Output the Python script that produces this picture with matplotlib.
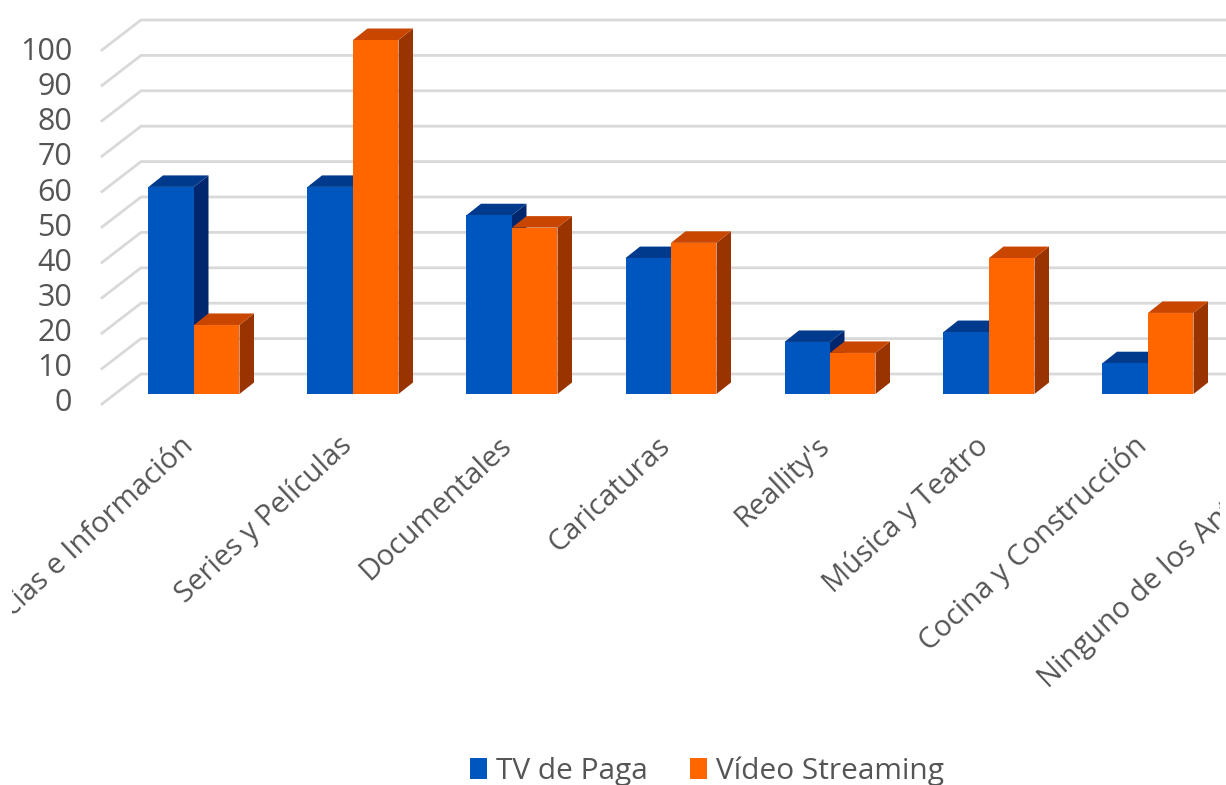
import matplotlib
matplotlib.use("Agg")
import matplotlib.pyplot as plt
from matplotlib.patches import Polygon
from matplotlib.transforms import Bbox, TransformedBbox

categories = ["Noticias e Información", "Series y Películas", "Documentales", "Caricaturas",
              "Reallity's", "Música y Teatro", "Cocina y Construcción", "Ninguno de los Anteriores"]
tv_paga = [58.5, 58.5, 50.5, 38.4, 14.7, 17.5, 8.7]
video_streaming = [19.5, 100, 47, 42.7, 11.6, 38.4, 22.9]
y_ticks = [0, 10, 20, 30, 40, 50, 60, 70, 80, 90, 100]

W, H = 1226, 785
X0, DX = 194, 159      # pixel of first category, pixels per category
Y0, DY = 394, 3.54     # pixel of value 0, pixels per unit
GREY = "#555555"

plt.rcParams["font.family"] = ["Open Sans", "DejaVu Sans"]
fig = plt.figure(figsize=(W / 100, H / 100), dpi=100)
ax = fig.add_axes([0, 0, 1, 1])
ax.set_xlim(-X0 / DX, (W - X0) / DX)
ax.set_ylim((Y0 - H) / DY, Y0 / DY)
ax.axis("off")

px = 1.0 / DX          # one pixel along x in data units
py = 1.0 / DY          # one pixel along y in data units

# back wall lines, with the short diagonal on the left
for v in y_ticks:
    ax.plot([-92 * px, -53 * px, W * px], [v - 10 * py, v + 20 * py, v + 20 * py],
            color="#d9d9d9", lw=2, zorder=1, solid_joinstyle="round")
    ax.text(-122 * px, v * 0.991 - 9 * py, str(v), ha="right", va="center", fontsize=22, color=GREY)

# bars with their side and top faces
width = 45.5 * px
depth_x = 14.5 * px
depth_y = 11.5 * py


def draw_bars(offset, values, front, top, side, label):
    xs = [i + offset for i in range(len(values))]
    for x, v in zip(xs, values):
        l, r = x - width / 2, x + width / 2
        ax.add_patch(Polygon([(r, 0), (r + depth_x, depth_y), (r + depth_x, v + depth_y), (r, v)],
                             color=side, lw=0, zorder=2))
        ax.add_patch(Polygon([(l, v), (r, v), (r + depth_x, v + depth_y), (l + depth_x, v + depth_y)],
                             color=top, lw=0, zorder=2))
    return ax.bar(xs, values, width, color=front, zorder=2, label=label)


h1 = draw_bars(-width / 2, tv_paga, "#0056bf", "#003a8c", "#00266e", "TV de Paga")
h2 = draw_bars(width / 2, video_streaming, "#ff6600", "#c84600", "#993300", "Vídeo Streaming")

# category labels, cut at the edges of the image
clip = TransformedBbox(Bbox([[12 / W, 0], [1220 / W, 1]]), fig.transFigure)
for i, name in enumerate(categories):
    t = ax.text(i - 5 * px, -48 * py, name, rotation=43, rotation_mode="anchor", ha="right",
                va="center", fontsize=21, color=GREY)
    t.set_clip_box(clip)
    t.set_clip_on(True)

ax.legend(handles=[h1, h2], loc="center", bbox_to_anchor=(707 / W, 1 - 771 / H), ncol=2,
          frameon=False, fontsize=21.5, labelcolor=GREY, handlelength=0.55, handleheight=0.7,
          handletextpad=0.3, columnspacing=1.43)

fig.savefig("out.png", dpi=100)
